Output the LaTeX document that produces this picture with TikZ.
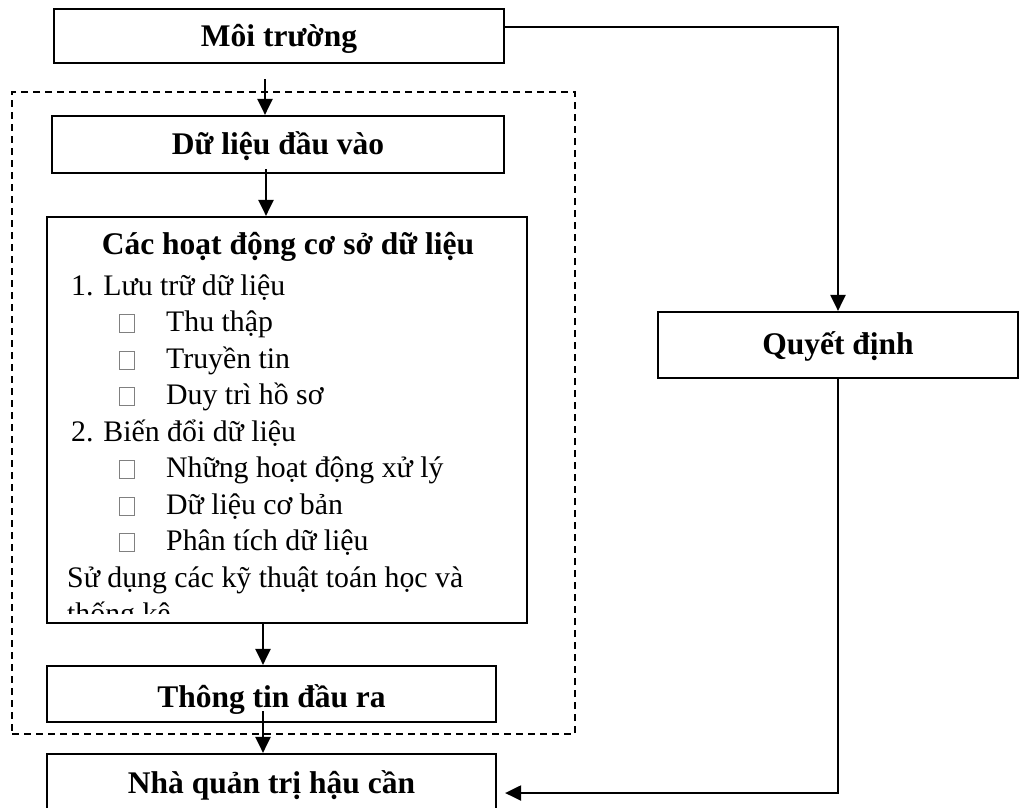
\documentclass[tikz,border=0pt]{standalone}
\usepackage{fontspec}
\setmainfont{Liberation Serif}
\usetikzlibrary{arrows.meta}

\tikzset{
  box/.style={draw, line width=2.2pt, rectangle, inner sep=0pt,
    font=\fontsize{31.5}{36}\selectfont\bfseries, text height=20pt, text depth=0pt},
  arr/.style={line width=2.2pt, -{Triangle[length=16pt,width=15pt]}},
  group/.style={draw, dash pattern=on 7pt off 5pt, line width=1.6pt, rectangle, inner sep=0pt},
  item/.style={anchor=base west, inner sep=0pt, font=\fontsize{29.8}{36}\selectfont},
  bullet/.style={draw=gray, line width=0.9pt}
}

\begin{document}
\begin{tikzpicture}[x=1pt, y=-1pt]
  \useasboundingbox (0,0) rectangle (1019,807);

  % dashed frame around the data-processing stages
  \node[group, minimum width=563pt, minimum height=642pt] (grp) at (293.5,413) {};

  % boxes
  \node[box, minimum width=450pt, minimum height=54pt] (env) at (279,36) {Môi trường};
  \node[box, minimum width=452pt, minimum height=57pt] (input) at (278,144.5) {Dữ liệu đầu vào};
  \node[draw, line width=2.2pt, rectangle, inner sep=0pt,
        minimum width=480pt, minimum height=406pt] (ops) at (287,420) {};
  \node[box, minimum width=449pt, minimum height=56pt, text height=26pt] (output) at (271.5,694) {Thông tin đầu ra};
  \node[box, minimum width=449pt, minimum height=56pt, text height=22pt] (mgr) at (271.5,782) {Nhà quản trị hậu cần};
  \node[box, minimum width=360pt, minimum height=66pt, text height=19pt] (dec) at (838,345) {Quyết định};

  % contents of the database operations box, cut off at its lower edge
  \begin{scope}
    \clip (47,217) rectangle (527,613);
    \node[anchor=base, inner sep=0pt, font=\fontsize{31.5}{36}\selectfont\bfseries] (title) at (288,254) {Các hoạt động cơ sở dữ liệu};
    \node[item] (l1) at (71,295) {1. Lưu trữ dữ liệu};
    \node[item] (l2) at (166,331.5) {Thu thập};
    \node[item] (l3) at (166,368) {Truyền tin};
    \node[item] (l4) at (166,404.5) {Duy trì hồ sơ};
    \node[item] (l5) at (71,441) {2. Biến đổi dữ liệu};
    \node[item] (l6) at (166,477.5) {Những hoạt động xử lý};
    \node[item] (l7) at (166,514) {Dữ liệu cơ bản};
    \node[item] (l8) at (166,550.5) {Phân tích dữ liệu};
    \node[item] (l9) at (67,587) {Sử dụng các kỹ thuật toán học và};
    \node[item] (l10) at (67,623.5) {thống kê};
  \end{scope}

  % bullet squares
  \foreach \b in {331.5,368,404.5,477.5,514,550.5}{
    \draw[bullet] (119.5,\b-17) rectangle (134.5,\b+1);
  }

  % connector columns
  \coordinate (colA) at (265,0);
  \coordinate (colB) at (266,0);
  \coordinate (colC) at (263,0);

  % main flow
  \draw[arr, shorten <=15pt] (env.south -| colA) -- (input.north -| colA);
  \draw[arr, shorten <=-5pt] (input.south -| colB) -- (ops.north -| colB);
  \draw[arr] (ops.south -| colC) -- (output.north -| colC);
  \draw[arr, shorten <=-12pt] (output.south -| colC) -- (mgr.north -| colC);

  % decision path
  \draw[arr] ([yshift=9pt]env.east) -| (dec.north);
  \draw[arr, shorten >=8pt] (dec.south) |- ([yshift=-11pt]mgr.east);
\end{tikzpicture}
\end{document}
